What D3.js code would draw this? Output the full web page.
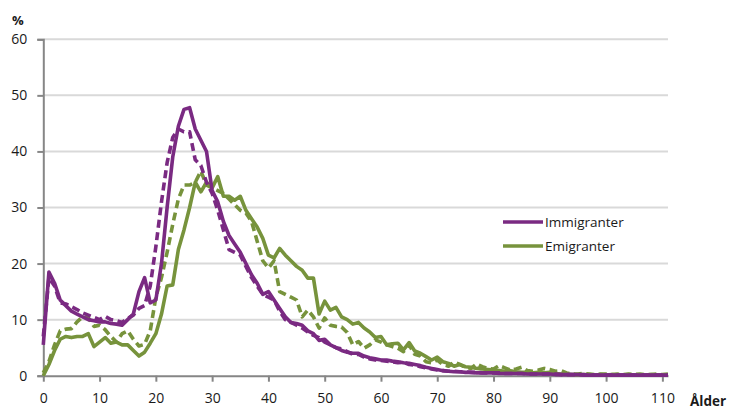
<!DOCTYPE html>
<html><head><meta charset="utf-8">
<script src="https://cdn.jsdelivr.net/npm/d3@7"></script>
<style>body{margin:0;background:#fff}svg{display:block}text{font-family:"Open Sans","Liberation Sans",sans-serif}</style>
</head><body>
<svg id="c" width="734" height="410"></svg>
<script>
const ages = d3.range(0, 112);
const yTicks = [0, 10, 20, 30, 40, 50, 60];
const xTicks = [0, 10, 20, 30, 40, 50, 60, 70, 80, 90, 100, 110];
const seriesNames = ["Immigranter", "Emigranter"];

const immSolid = [5.5,18.5,16.5,13.5,12.5,11.5,11,10.5,10,9.8,9.6,9.6,9.3,9.2,9,10,11,15,17.5,13,
 13.5,20,30,39,44.5,47.5,47.8,44,42,40,33,31,27.5,25,23.5,22,20,18,16.5,14.5,
 15,13.5,12,10.5,9.5,9.3,9,8,7.5,6.3,6.5,5.5,5,4.5,4.2,4,4,3.5,3.2,3,
 2.8,2.8,2.6,2.5,2.3,2.2,2,1.8,1.5,1.3,1.1,0.9,0.8,0.7,0.7,0.6,0.6,0.5,0.5,0.5,
 0.5,0.4,0.4,0.4,0.4,0.4,0.3,0.3,0.3,0.3,0.3,0.2,0.2,0.2,0.2,0.2,0.1,0.1,0.1,0.1,
 0.1,0.1,0.1,0.1,0.1,0.1,0.1,0.1,0.1,0.1,0.1,0.1];
const immDashed = [7,17.5,16,13,12.8,12.3,11.8,11.2,10.8,10.4,10,10.6,10,9.8,9.5,10.2,10.8,12,12.5,16,
 23,31,38,42.5,44,43.5,43.5,38.5,37.5,34.5,32.5,29.5,26,22.5,22,21.5,19.5,17.5,16,14.5,
 14,13.5,11.5,10,9.5,9,8.5,7.8,7.2,6.8,6,5.5,5,4.8,4.3,3.8,3.8,3.3,3,2.8,
 2.7,2.6,2.5,2.3,2.4,2,1.9,1.6,1.4,1.2,1,0.9,0.8,0.8,0.7,0.7,0.6,0.6,0.5,0.5,
 0.5,0.5,0.4,0.4,0.4,0.4,0.3,0.3,0.3,0.3,0.3,0.3,0.2,0.2,0.2,0.2,0.2,0.1,0.1,0.1,
 0.1,0.1,0.1,0.1,0.1,0.1,0.1,0.1,0.1,0.1,0.1,0.1];
const emiSolid = [0,2,4.5,6.5,7,6.8,7,7,7.5,5.2,6,6.8,5.8,6,5.5,5.5,4.5,3.5,4.2,5.8,
 7.5,11,16,16.2,22.5,26,30,34.5,32.8,34.5,33.5,35.5,32,32,31.3,32,29.5,28,26.5,24.5,
 21.5,21,22.7,21.5,20.5,19.5,18.8,17.4,17.4,11,13.3,11.7,12.2,10.5,10,9.2,9.5,8.5,7.8,6.8,
 7,5.5,5.7,5.8,4.6,5.9,4.4,4,3.4,2.8,3.3,2.5,2.2,1.7,2,1.6,1.5,1.3,1.2,1.1,
 1,0.9,0.8,0.9,0.7,0.6,0.6,0.5,0.6,0.5,0.6,0.4,0.3,0.3,0.2,0.2,0.2,0.2,0.1,0.2,
 0.1,0.2,0.1,0.1,0.2,0.1,0.1,0.1,0.2,0.1,0.1,0.1];
const emiDashed = [0.5,2.5,5.5,8,8.3,8.4,9.6,10.5,10.3,8.8,9,8.2,7,6,7.5,8,6.5,5.3,5.6,8,
 14,17.5,22,27,31.5,34,34,34.5,36.5,34,33.5,33,32.5,31.5,30.5,29.5,29,27.5,24,20.5,
 19.2,20.5,15,14.5,14,13.5,10.5,11.7,10.5,8.5,10.3,9,8.8,8.7,7.7,5.5,6.1,4.9,5.5,6.4,
 6,5.5,5.2,4.9,4.3,5.5,3.8,3.5,2.5,2.3,2.8,2,1.7,2.4,2,1.5,1.3,2.1,1.6,1.3,
 1.2,1.8,1.4,1,1.2,1.5,0.9,0.8,1,1.3,1.1,0.8,0.9,0.5,0.3,0.3,0.4,0.3,0.2,0.3,
 0.3,0.2,0.3,0.2,0.3,0.2,0.3,0.2,0.2,0.3,0.2,0.3];

const purple = "#7a2a82", green = "#77933c";
const svg = d3.select("#c");
const x = d3.scaleLinear().domain([0, 111]).range([43.3, 668]);
const y = d3.scaleLinear().domain([0, 60]).range([375.7, 39.3]);

// gridlines
svg.append("g").selectAll("line").data(yTicks.filter(d => d > 0)).join("line")
  .attr("x1", x(0)).attr("x2", x(111)).attr("y1", d => y(d)).attr("y2", d => y(d))
  .attr("stroke", "#d9d9d9").attr("stroke-width", 2);

// y axis
const yAxis = svg.append("g").attr("transform", `translate(${x(0)},0)`)
  .call(d3.axisLeft(y).tickValues(yTicks).tickSize(6).tickPadding(10));
yAxis.select(".domain").attr("stroke", "#868686").attr("stroke-width", 2);
yAxis.selectAll(".tick line").attr("stroke", "#868686").attr("stroke-width", 2);
yAxis.selectAll("text").attr("font-size", 14).attr("fill", "#1a1a1a");

// x axis
const xAxis = svg.append("g").attr("transform", `translate(0,${y(0)})`)
  .call(d3.axisBottom(x).tickValues(xTicks).tickSize(6).tickPadding(11).tickSizeOuter(0));
xAxis.select(".domain").attr("stroke", "#868686").attr("stroke-width", 2);
xAxis.selectAll(".tick line").attr("stroke", "#868686").attr("stroke-width", 2);
xAxis.selectAll("text").attr("font-size", 14).attr("fill", "#1a1a1a");

const line = d3.line().x((d, i) => x(ages[i])).y(d => y(d));
const series = [
  {v: emiDashed, c: green, dash: "8,4.5"},
  {v: emiSolid, c: green, dash: null},
  {v: immDashed, c: purple, dash: "8,4.5"},
  {v: immSolid, c: purple, dash: null}
];
svg.append("g").selectAll("path").data(series).join("path")
  .attr("d", d => line(d.v)).attr("fill", "none").attr("stroke", d => d.c)
  .attr("stroke-width", 3.6).attr("stroke-linejoin", "round")
  .attr("stroke-dasharray", d => d.dash);

// labels
svg.append("text").attr("x", 12).attr("y", 25).attr("font-size", 13).attr("font-weight", "bold").attr("fill", "#1a1a1a").text("%");
svg.append("text").attr("x", 690).attr("y", 406).attr("font-size", 13.5).attr("font-weight", "bold").attr("fill", "#1a1a1a").text("Ålder");

// legend
const lg = svg.append("g");
[purple, green].forEach((c, i) => {
  const ly = 222 + i * 24;
  lg.append("line").attr("x1", 503).attr("x2", 543).attr("y1", ly).attr("y2", ly).attr("stroke", c).attr("stroke-width", 3.5);
  lg.append("text").attr("x", 545).attr("y", ly + 5).attr("font-size", 13.5).attr("fill", "#1a1a1a").text(seriesNames[i]);
});
</script>
</body></html>
